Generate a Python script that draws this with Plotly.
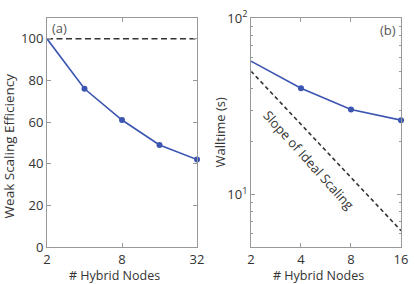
import plotly.graph_objects as go
import math

# Panel (a): weak scaling
nodes_a = [2, 4, 8, 16, 32]
efficiency = [100, 76, 61, 49, 42]
ideal_eff = [100, 100]
ideal_eff_x = [2, 32]
xticks_a = [2, 8, 32]
yticks_a = [0, 20, 40, 60, 80, 100]

# Panel (b): walltime
nodes_b = [2, 4, 8, 16]
walltime = [57, 40, 30.3, 26.4]
ideal_x = [2, 16]
ideal_wall = [50, 6.25]
xticks_b = [2, 4, 8, 16]
yticks_b = [10, 100]
yticklabels_b = ["10<sup>1</sup>", "10<sup>2</sup>"]
minor_b = [6, 7, 8, 9, 20, 30, 40, 50, 60, 70, 80, 90]

blue = "#3b55b0"
dark = "#333333"
axcol = "#999999"
FONT = "Open Sans"

fig = go.Figure()
fig.add_trace(go.Scatter(x=ideal_eff_x, y=ideal_eff, mode="lines",
                         line=dict(color=dark, width=1.6, dash="6px,3.5px"),
                         xaxis="x", yaxis="y", showlegend=False))
fig.add_trace(go.Scatter(x=nodes_a, y=efficiency, mode="lines+markers",
                         line=dict(color=blue, width=1.6),
                         marker=dict(color=blue, size=6),
                         xaxis="x", yaxis="y", showlegend=False, cliponaxis=False))
fig.add_trace(go.Scatter(x=ideal_x, y=ideal_wall, mode="lines",
                         line=dict(color=dark, width=1.6, dash="4px,3px"),
                         xaxis="x2", yaxis="y2", showlegend=False))
fig.add_trace(go.Scatter(x=nodes_b, y=walltime, mode="lines+markers",
                         line=dict(color=blue, width=1.6),
                         marker=dict(color=blue, size=6),
                         xaxis="x2", yaxis="y2", showlegend=False, cliponaxis=False))

axbase = dict(showgrid=False, zeroline=False, showline=True, linecolor=axcol,
              linewidth=1, mirror="allticks", ticks="inside", ticklen=4,
              tickcolor=axcol, tickfont=dict(family=FONT, size=13, color=dark))

title_font = dict(family=FONT, size=12.5, color=dark)

fig.update_layout(
    width=415, height=284,
    margin=dict(l=47, r=7, t=13, b=37),
    paper_bgcolor="white", plot_bgcolor="white",
    font=dict(family=FONT, color=dark),
    xaxis=dict(axbase, type="log", domain=[0, 0.4238],
               range=[math.log10(2), math.log10(32)],
               tickvals=xticks_a, ticktext=[str(v) for v in xticks_a],
               ticklabelstandoff=0, anchor="y"),
    yaxis=dict(axbase, range=[0, 110], tickvals=yticks_a, anchor="x"),
    xaxis2=dict(axbase, type="log", domain=[0.5762, 1],
                range=[math.log10(2), math.log10(16)],
                tickvals=xticks_b, ticktext=[str(v) for v in xticks_b],
                ticklabelstandoff=0, anchor="y2"),
    yaxis2=dict(axbase, type="log", range=[math.log10(5.05), 2],
                tickvals=yticks_b, ticktext=yticklabels_b,
                minor=dict(ticks="inside", ticklen=2, tickcolor=axcol, tickvals=minor_b),
                anchor="x2"),
    annotations=[
        dict(text="(a)", xref="paper", yref="paper", x=0.008, y=0.955,
             xanchor="left", yanchor="middle", showarrow=False,
             font=dict(family=FONT, size=13, color="#555555")),
        dict(text="(b)", xref="paper", yref="paper", x=0.992, y=0.949,
             xanchor="right", yanchor="middle", showarrow=False,
             font=dict(family=FONT, size=13, color="#555555")),
        dict(text="Slope of Ideal Scaling", xref="paper", yref="paper",
             x=0.7396, y=0.38, xanchor="center", yanchor="middle",
             textangle=48, showarrow=False,
             font=dict(family=FONT, size=13, color=dark)),
        dict(text="Weak Scaling Efficiency", xref="paper", yref="paper",
             x=-0.108, y=0.4426, xanchor="center", yanchor="middle",
             textangle=-90, showarrow=False, font=dict(family=FONT, size=13.5, color=dark)),
        dict(text="Walltime (s)", xref="paper", yref="paper",
             x=0.4875, y=0.498, xanchor="center", yanchor="middle",
             textangle=-90, showarrow=False, font=dict(family=FONT, size=13, color=dark)),
        dict(text="# Hybrid Nodes", xref="paper", yref="paper",
             x=0.191, y=-0.124, xanchor="center", yanchor="middle",
             showarrow=False, font=title_font),
        dict(text="# Hybrid Nodes", xref="paper", yref="paper",
             x=0.767, y=-0.124, xanchor="center", yanchor="middle",
             showarrow=False, font=title_font),
    ],
)

fig.write_html("out.html", config={"displayModeBar": False},
               post_script="document.body.style.margin='0';")
